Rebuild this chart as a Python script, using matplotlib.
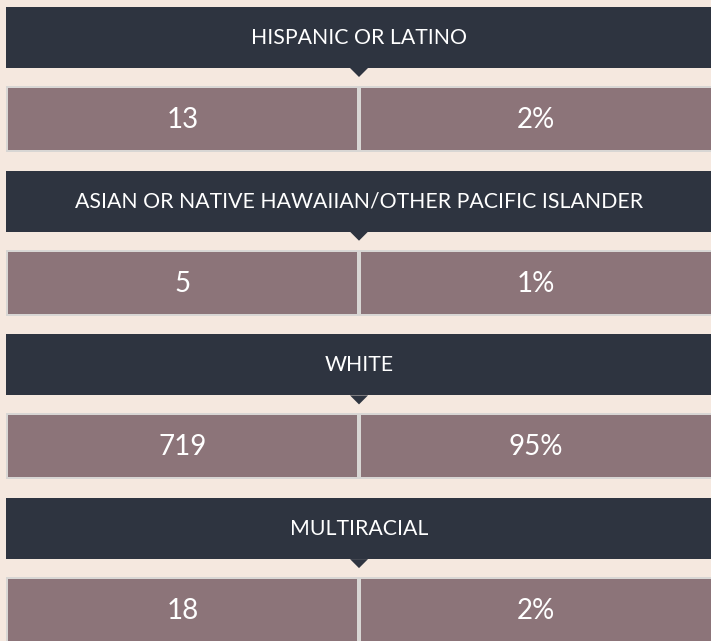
import matplotlib
matplotlib.use("Agg")
import matplotlib.pyplot as plt
from matplotlib.patches import Rectangle, Polygon

categories = ["HISPANIC OR LATINO",
              "ASIAN OR NATIVE HAWAIIAN/OTHER PACIFIC ISLANDER",
              "WHITE",
              "MULTIRACIAL"]
counts = [13, 5, 719, 18]
percents = ["2%", "1%", "95%", "2%"]

BG = "#F5E8DF"
HEAD = "#2E3440"
CELL = "#8C7479"
BORDER = "#D8D6D4"

W, H = 711, 641
fig = plt.figure(figsize=(W / 100, H / 100), dpi=100, facecolor=BG)
ax = fig.add_axes([0, 0, 1, 1])
ax.set_xlim(0, W)
ax.set_ylim(H, 0)
ax.axis("off")
ax.set_facecolor(BG)

period = 163.7
x0, x1 = 6, 713
xmid = 359
for i, (cat, cnt, pct) in enumerate(zip(categories, counts, percents)):
    top = 7 + i * period
    hh = 61
    ax.add_patch(Rectangle((x0, top), x1 - x0, hh, facecolor=HEAD, edgecolor="none"))
    ax.add_patch(Polygon([(xmid - 9, top + hh), (xmid + 9, top + hh), (xmid, top + hh + 9)],
                         closed=True, facecolor=HEAD, edgecolor="none"))
    ax.text(xmid, top + hh / 2 + 0.5, cat, ha="center", va="center", color="white",
            fontsize=15.3, family="Lato", weight="normal")
    rtop = top + hh + 18
    rh = 66
    for (a, b), val in zip([(x0, xmid), (xmid, x1)], [str(cnt), pct]):
        ax.add_patch(Rectangle((a, rtop), b - a, rh, facecolor=BORDER, edgecolor="none"))
        ax.add_patch(Rectangle((a + 2, rtop + 2), b - a - 4, rh - 4, facecolor=CELL, edgecolor="none"))
        ax.text((a + b) / 2, rtop + rh / 2 + 1, val, ha="center", va="center", color="white",
                fontsize=20, family="Lato", weight="normal")

fig.savefig("out.png", dpi=100, facecolor=BG)
